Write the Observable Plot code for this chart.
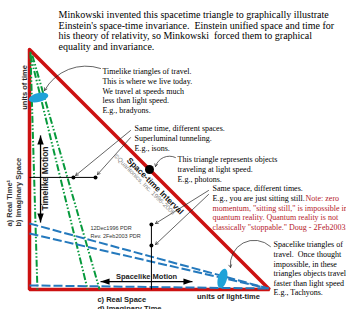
<!DOCTYPE html>
<html><head><meta charset="utf-8">
<script src="https://cdn.jsdelivr.net/npm/d3@7"></script>
<script src="https://cdn.jsdelivr.net/npm/@observablehq/plot@0.6"></script>
<style>html,body{margin:0;padding:0;background:#fff;overflow:hidden}</style>
</head><body><div id="chart"></div>
<script>
// Diagram coordinates: x = units of light-time, y = units of time
const triangle = [{x:0,y:10},{x:0,y:0},{x:10,y:0},{x:0,y:10}];
const timelikeLines = [
  {x1:0.04,y1:9.9,x2:0.33,y2:0},
  {x1:0.04,y1:9.75,x2:2.42,y2:0},
  {x1:0.12,y1:9.75,x2:2.92,y2:0}
];
const spacelikeLines = [
  {x1:0,y1:2.75,x2:9.96,y2:0.04},
  {x1:0,y1:2.33,x2:9.96,y2:0.04},
  {x1:0,y1:0.17,x2:9.96,y2:0.04}
];
const blobs = [{x:0.375,y:8.0,kind:"time"},{x:8.04,y:0.46,kind:"space"}];
const smallDots = [{x:1.83,y:4.67},{x:2.75,y:4.67},{x:5.08,y:2.71},{x:5.08,y:1.83}];
const lightDot = [{x:5,y:5}];
const guideLines = [{x1:0,y1:4.67,x2:2.75,y2:4.67},{x1:5.08,y1:2.71,x2:5.08,y2:0}];
const motionLines = [{x1:0.46,y1:6.42,x2:0.46,y2:2.79},{x1:2.96,y1:0.33,x2:6.79,y2:0.33}];
const motionHeads = [{x:0.46,y:6.42,dir:0},{x:0.46,y:2.79,dir:180},{x:2.96,y:0.33,dir:270},{x:6.79,y:0.33,dir:90}];
const callouts = [
  {x1:2.96,y1:9.21,x2:0.625,y2:8.29,bend:-40},
  {x1:4.21,y1:6.625,x2:1.92,y2:4.75,bend:0},
  {x1:4.21,y1:6.33,x2:2.83,y2:4.79,bend:0},
  {x1:6.08,y1:5.5,x2:5.25,y2:5.125,bend:-50},
  {x1:7.46,y1:4.125,x2:5.25,y2:2.75,bend:0},
  {x1:7.46,y1:3.96,x2:5.25,y2:1.875,bend:0},
  {x1:10.04,y1:1.79,x2:8.375,y2:0.92,bend:-70}
];
const titleText = [{x:1.21,y:11.625,text:"Minkowski invented this spacetime triangle to graphically illustrate\nEinstein's space-time invariance.  Einstein unified space and time for\nhis theory of relativity, so Minkowski  forced them to graphical\nequality and invariance."}];
const notes = [
  {x:3.04,y:9.25,text:"Timelike triangles of travel.\nThis is where we live today.\nWe travel at speeds much\nless than light speed.\nE.g., bradyons."},
  {x:4.375,y:6.875,text:"Same time, different spaces.\nSuperluminal tunneling.\nE.g., isons."},
  {x:6.17,y:5.58,text:"This triangle represents objects\ntraveling at light speed.\nE.g., photons."},
  {x:7.625,y:4.375,text:"Same space, different times.\nE.g., you are just sitting still."},
  {x:10.17,y:2.04,text:"Spacelike triangles of\ntravel.  Once thought\nimpossible, in these\ntriangles objects travel\nfaster than light speed\nE.g., Tachyons."}
];
const redNotes = [
  {x:11.5,y:3.975,text:"Note: zero"},
  {x:7.625,y:3.575,text:"momentum, \"sitting still,\" is impossible in\nquantum reality. Quantum reality is not\nclassically \"stoppable.\" Doug - 2Feb2003."}
];
const axisLabelsVertical = [
  {x:-0.83,y:2.625,text:"a) Real Time¹"},
  {x:-0.46,y:2.625,text:"b) Imaginary Space"}
];
const unitsTime = [{x:-0.21,y:8.42,text:"units of time"}];
const bottomLabel = [{x:2.83,y:-0.25,text:"c) Real Space\nd) Imaginary Time"}];
const centeredLabels = [
  {x:8.29,y:-0.29,text:"units of light-time"},
  {x:4.875,y:0.54,text:"Spacelike Motion"}
];
const timelikeLabel = [{x:0.67,y:4.625,text:"Timelike Motion"}];
const intervalLabel = [{x:5.23,y:4.31,text:"Space-time Interval"}];
const copyrightLabel = [{x:4.79,y:4.375,text:"©Quantonics, Inc. 1996-2006"}];
const revisionLabel = [{x:2.54,y:2.73,text:"12Dec1996 PDR\nRev. 2Feb2003 PDR"}];

function ellipseSymbol(rx, ry, deg) {
  const a = deg*Math.PI/180, c = Math.cos(a), s = Math.sin(a), k = 0.5523;
  const P = (x,y) => [x*c - y*s, x*s + y*c];
  return {draw(ctx) {
    ctx.moveTo(...P(rx,0));
    ctx.bezierCurveTo(...P(rx,k*ry), ...P(k*rx,ry), ...P(0,ry));
    ctx.bezierCurveTo(...P(-k*rx,ry), ...P(-rx,k*ry), ...P(-rx,0));
    ctx.bezierCurveTo(...P(-rx,-k*ry), ...P(-k*rx,-ry), ...P(0,-ry));
    ctx.bezierCurveTo(...P(k*rx,-ry), ...P(rx,-k*ry), ...P(rx,0));
    ctx.closePath();
  }};
}
function headSymbol(deg) {
  const a = deg*Math.PI/180, c = Math.cos(a), s = Math.sin(a);
  const P = (x,y) => [x*c - y*s, x*s + y*c];
  return {draw(ctx) {
    ctx.moveTo(0,0); ctx.lineTo(...P(-3.2,9)); ctx.lineTo(...P(3.2,9)); ctx.closePath();
  }};
}

const RED = "#cc1111", GREEN = "#079a3c", BLUE = "#2479bd", CYAN = "#1ea2d8";
const SERIF = "Liberation Serif, Times New Roman, serif";
const SANS = "Liberation Sans, Arial, sans-serif";

const marks = [
  Plot.line(triangle, {x:"x", y:"y", stroke:RED, strokeWidth:3.5, strokeLinejoin:"miter"}),
  Plot.link(timelikeLines, {x1:"x1", y1:"y1", x2:"x2", y2:"y2", stroke:GREEN, strokeWidth:2, strokeDasharray:"7,2,1.5,2,1.5,2"}),
  Plot.link(spacelikeLines, {x1:"x1", y1:"y1", x2:"x2", y2:"y2", stroke:BLUE, strokeWidth:2, strokeDasharray:"9,3"}),
  Plot.dot(blobs.filter(d=>d.kind==="time"), {x:"x", y:"y", symbol:ellipseSymbol(10,4.5,-15), fill:CYAN, stroke:"none"}),
  Plot.dot(blobs.filter(d=>d.kind==="space"), {x:"x", y:"y", symbol:ellipseSymbol(4.5,10,15), fill:CYAN, stroke:"none"}),
  Plot.link(guideLines, {x1:"x1", y1:"y1", x2:"x2", y2:"y2", stroke:"black", strokeWidth:1}),
  Plot.link(motionLines, {x1:"x1", y1:"y1", x2:"x2", y2:"y2", stroke:"black", strokeWidth:1.3}),
  ...motionHeads.map(h => Plot.dot([h], {x:"x", y:"y", symbol:headSymbol(h.dir), fill:"black", stroke:"none"})),
  Plot.dot(smallDots, {x:"x", y:"y", r:2, fill:"black"}),
  Plot.dot(lightDot, {x:"x", y:"y", r:4.5, fill:"black"}),
  ...callouts.map(c => Plot.arrow([c], {x1:"x1", y1:"y1", x2:"x2", y2:"y2", bend:c.bend, stroke:"#222", strokeWidth:0.7, headLength:6})),
  Plot.text(titleText, {x:"x", y:"y", text:"text", textAnchor:"start", lineAnchor:"top", fontFamily:SERIF, fontSize:10, lineHeight:1.07, fill:"black"}),
  Plot.text(notes, {x:"x", y:"y", text:"text", textAnchor:"start", lineAnchor:"top", fontFamily:SERIF, fontSize:8, lineHeight:1.2, fill:"black"}),
  Plot.text(redNotes, {x:"x", y:"y", text:"text", textAnchor:"start", lineAnchor:"top", fontFamily:SERIF, fontSize:8, lineHeight:1.2, fill:"#b5202a"}),
  Plot.text(axisLabelsVertical, {x:"x", y:"y", text:"text", rotate:-90, textAnchor:"start", lineAnchor:"middle", fontFamily:SANS, fontWeight:"bold", fontSize:7.5, fill:"#333"}),
  Plot.text(unitsTime, {x:"x", y:"y", text:"text", rotate:-90, textAnchor:"middle", lineAnchor:"middle", fontFamily:SANS, fontWeight:"bold", fontSize:7.5, fill:"#222"}),
  Plot.text(bottomLabel, {x:"x", y:"y", text:"text", textAnchor:"start", lineAnchor:"top", fontFamily:SANS, fontWeight:"bold", fontSize:7.5, lineHeight:1.2, fill:"#222"}),
  Plot.text(centeredLabels, {x:"x", y:"y", text:"text", textAnchor:"middle", lineAnchor:"middle", fontFamily:SANS, fontWeight:"bold", fontSize:7.5, fill:"#222"}),
  Plot.text(timelikeLabel, {x:"x", y:"y", text:"text", rotate:-90, textAnchor:"middle", lineAnchor:"middle", fontFamily:SANS, fontWeight:"bold", fontSize:8.5, fill:"#222"}),
  Plot.text(intervalLabel, {x:"x", y:"y", text:"text", rotate:45, textAnchor:"middle", lineAnchor:"middle", fontFamily:SANS, fontWeight:"bold", fontSize:8.3, fill:"#111"}),
  Plot.text(copyrightLabel, {x:"x", y:"y", text:"text", rotate:45, textAnchor:"middle", lineAnchor:"middle", fontFamily:SANS, fontSize:6.4, fill:"#888"}),
  Plot.text(revisionLabel, {x:"x", y:"y", text:"text", textAnchor:"start", lineAnchor:"top", fontFamily:SANS, fontSize:5.5, lineHeight:1.45, fill:"#333"})
];

const chart = Plot.plot({
  width: 346, height: 309,
  margin: 0,
  x: {domain: [-29/24, 317/24], range: [0, 346], axis: null},
  y: {domain: [-20/24, 289/24], range: [309, 0], axis: null},
  style: {background: "white", overflow: "hidden"},
  marks
});
document.getElementById("chart").appendChild(chart);
</script>
</body></html>
